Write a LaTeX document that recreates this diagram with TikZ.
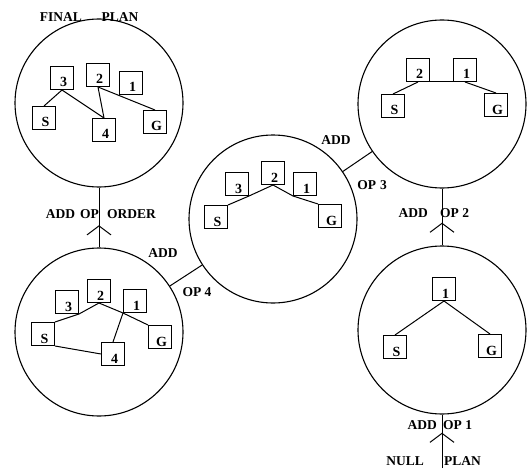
\documentclass[tikz,border=0pt]{standalone}
\usepackage{fontspec}
\setmainfont{Liberation Serif}
\usetikzlibrary{arrows.meta,decorations.markings}

\tikzset{
  plan/.style={draw, circle, minimum size=168pt, inner sep=0pt, line width=1.1pt},
  boite/.style={draw, minimum size=23pt, inner sep=0pt, line width=1pt,
    font=\bfseries\fontsize{14}{14}\selectfont, text height=18pt, text depth=0pt,
    execute at begin node=\hspace{3pt}},
  etiq/.style={font=\bfseries\fontsize{13.5}{13.5}\selectfont, inner sep=1pt},
  lien/.style={line width=1pt},
  fleche/.style={line width=1pt, postaction={decorate},
    decoration={markings, mark=at position #1 with
      {\arrow{Straight Barb[length=9pt,width=24pt,line width=1pt]}}}}
}

\begin{document}
\begin{tikzpicture}[x=1pt, y=-1pt]
\useasboundingbox (0,0) rectangle (527,476);

% Les cinq plans (cercles)
\node[plan] (p1) at (442,330) {};
\node[plan] (p2) at (442,104) {};
\node[plan] (p3) at (273,219) {};
\node[plan] (p4) at (99,332) {};
\node[plan] (p5) at (99,103) {};

% Plan 1
\node[boite] (p1op1) at (444,289) {1};
\node[boite] (p1s) at (395,347) {S};
\node[boite] (p1g) at (490,346) {G};
\draw[lien] (p1op1.south) -- (p1s.north);
\draw[lien] (p1op1.south) -- (p1g.north);

% Plan 2
\node[boite] (p2op2) at (418,70) {2};
\node[boite] (p2op1) at (465,70) {1};
\node[boite] (p2s) at (393,106) {S};
\node[boite] (p2g) at (496,105) {G};
\draw[lien] (p2op2.south east) -- (p2op1.south west);
\draw[lien] (p2op2.south) -- (p2s.north);
\draw[lien] (p2op1.south) -- (p2g.north);

% Plan 3
\node[boite] (p3op3) at (237,184) {3};
\node[boite] (p3op2) at (273,173) {2};
\node[boite] (p3op1) at (305,184) {1};
\node[boite] (p3s) at (216,217) {S};
\node[boite] (p3g) at (330,216) {G};
\draw[lien] (p3op2.south) -- (p3op3.south east) -- (p3s.north east);
\draw[lien] (p3op2.south) -- (p3op1.south west) -- (p3g.north west);

% Plan 4
\node[boite] (p4op3) at (67,302) {3};
\node[boite] (p4op2) at (99,291) {2};
\node[boite] (p4op1) at (135,301) {1};
\node[boite] (p4s) at (43,334) {S};
\node[boite] (p4op4) at (113,354) {4};
\node[boite] (p4g) at (160,337) {G};
\draw[lien] (p4s.north east) -- (p4op3.south east) -- (p4op2.south)
  -- (p4op1.south west) -- (p4g.north west);
\draw[lien] (p4op1.south west) -- (p4op4.north);
\draw[lien] (p4s.south east) -- (p4op4.west);

% Plan final
\node[boite] (p5op3) at (62,78) {3};
\node[boite] (p5op2) at (98,75) {2};
\node[boite] (p5op1) at (131,83) {1};
\node[boite] (p5s) at (44,118) {S};
\node[boite] (p5op4) at (104,130) {4};
\node[boite] (p5g) at (155,122) {G};
\draw[lien] (p5op3.south) -- (p5s.north);
\draw[lien] (p5op3.south) -- (p5op4.north);
\draw[lien] (p5op2.south) -- (p5op4.north);
\draw[lien] (p5op2.south) -- (p5g.north);

% Liaisons entre les plans
\coordinate (nul) at (442,468);
\draw[fleche=0.66] (nul) -- (p1);
\draw[fleche=0.4] (p1) -- (p2);
\draw[lien] (p2) -- (p3);
\draw[lien] (p3) -- (p4);
\draw[fleche=0.37] (p4) -- (p5);

% Textes
\node[etiq] (tfinal) at (61,17) {FINAL};
\node[etiq] (tplan) at (120,17) {PLAN};
\node[etiq, anchor=east] (tadd5) at (100,214) {ADD\hspace{5pt}OP};
\node[etiq, anchor=west] (tord) at (106,214) {ORDER};
\node[etiq] (tadd4) at (163,253) {ADD};
\node[etiq] (top4) at (197,292) {OP 4};
\node[etiq] (tadd3) at (336,140) {ADD};
\node[etiq] (top3) at (372,185) {OP\hspace{4pt}3};
\node[etiq, anchor=east] (tadd2) at (429,213) {ADD};
\node[etiq, anchor=west] (top2) at (439,213) {OP 2};
\node[etiq, anchor=east] (tadd1) at (438,425) {ADD};
\node[etiq, anchor=west] (top1) at (442,425) {OP 1};
\node[etiq, anchor=east] (tnull) at (425,461) {NULL};
\node[etiq, anchor=west] (tnplan) at (443,461) {PLAN};

\end{tikzpicture}
\end{document}
